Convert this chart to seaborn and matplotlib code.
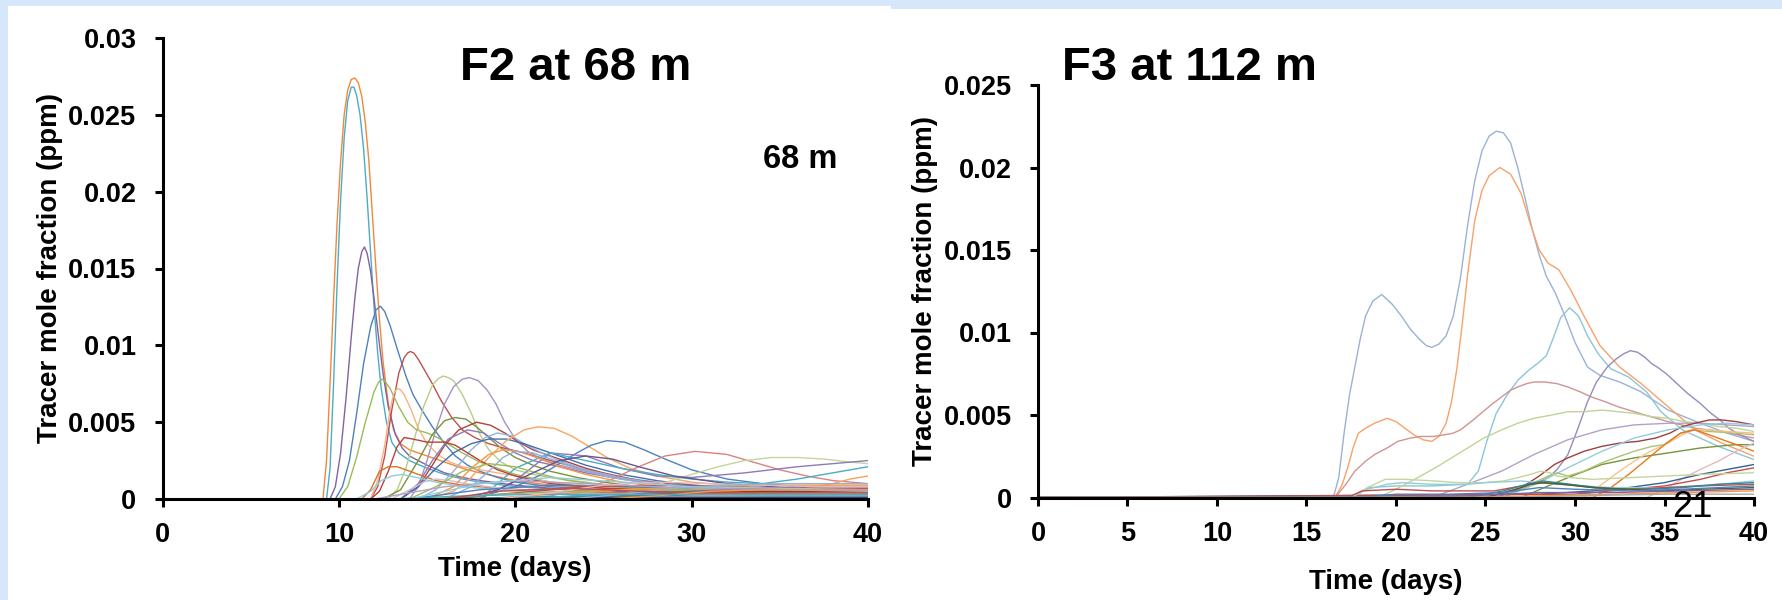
import matplotlib
matplotlib.use("Agg")
import matplotlib.pyplot as plt
import seaborn as sns
import pandas as pd
from matplotlib.patches import Rectangle
from matplotlib.ticker import FuncFormatter

# ---------------- F2 at 68 m (left panel) ----------------
f2_c01_t = [0, 9.1, 9.3, 9.5, 9.7, 9.9, 10.1, 10.3, 10.5, 10.7, 10.9, 11.1, 11.3, 11.5, 11.7, 11.9, 12.1, 12.3, 12.5, 12.8, 13.1, 13.5, 14, 14.5, 15, 16, 17, 18, 20, 22, 25, 30, 35, 40]
f2_c01_v = [0, 0, 0.0025, 0.0075, 0.0130, 0.0180, 0.0220, 0.0250, 0.0266, 0.0273, 0.0274, 0.0271, 0.0262, 0.0245, 0.0220, 0.0185, 0.0150, 0.0117, 0.0090, 0.0062, 0.0045, 0.0036, 0.0032, 0.0030, 0.0028, 0.0024, 0.0020, 0.0017, 0.0012, 0.0009, 0.0007, 0.0005, 0.0004, 0.0003]
f2_c02_t = [0, 9.3, 9.5, 9.7, 9.9, 10.1, 10.3, 10.5, 10.7, 10.85, 11.0, 11.2, 11.4, 11.6, 11.8, 12.0, 12.2, 12.4, 12.7, 13.0, 13.4, 14, 15, 16, 17, 18, 20, 23, 26, 30, 35, 40]
f2_c02_v = [0, 0, 0.002, 0.0075, 0.0140, 0.0195, 0.0235, 0.0259, 0.0268, 0.0268, 0.0263, 0.0250, 0.0228, 0.0196, 0.0160, 0.0124, 0.0095, 0.0072, 0.0050, 0.0037, 0.0030, 0.0025, 0.0020, 0.0016, 0.0013, 0.0011, 0.0008, 0.0006, 0.0004, 0.0003, 0.0002, 0.0002]
f2_c03_t = [0, 9.5, 9.8, 10.1, 10.4, 10.7, 10.9, 11.1, 11.3, 11.45, 11.6, 11.8, 12.0, 12.2, 12.5, 12.8, 13.2, 13.6, 14, 15, 16, 17, 18, 20, 22, 25, 30, 35, 40]
f2_c03_v = [0, 0, 0.0008, 0.0030, 0.0065, 0.0105, 0.0130, 0.0150, 0.0161, 0.0164, 0.0160, 0.0148, 0.0130, 0.0110, 0.0082, 0.0060, 0.0042, 0.0033, 0.0028, 0.0022, 0.0017, 0.0014, 0.0012, 0.0009, 0.0007, 0.0005, 0.0004, 0.0003, 0.0002]
f2_c04_t = [0, 9.8, 10.2, 10.6, 11.0, 11.4, 11.8, 12.1, 12.35, 12.6, 12.9, 13.3, 13.8, 14.2, 14.7, 15.3, 16.0, 16.6, 17.3, 18, 19, 20, 22, 25, 30, 35, 40]
f2_c04_v = [0, 0, 0.0008, 0.0025, 0.0055, 0.0088, 0.0112, 0.0123, 0.01255, 0.0122, 0.0113, 0.0098, 0.0080, 0.0068, 0.0058, 0.0047, 0.0036, 0.0028, 0.0022, 0.0018, 0.0014, 0.0011, 0.0008, 0.0006, 0.0004, 0.0003, 0.0002]
f2_c05_t = [0, 11.8, 12.2, 12.6, 13.0, 13.4, 13.7, 13.9, 14.05, 14.25, 14.5, 14.8, 15.3, 15.8, 16.4, 17, 17.7, 18.5, 19.4, 20.5, 22, 24, 26, 28, 30, 33, 36, 40]
f2_c05_v = [0, 0, 0.0008, 0.0028, 0.0058, 0.0082, 0.0092, 0.0095, 0.0096, 0.0095, 0.0091, 0.0085, 0.0075, 0.0064, 0.0053, 0.0045, 0.0040, 0.0036, 0.0033, 0.0030, 0.0025, 0.0019, 0.0014, 0.0010, 0.0008, 0.0006, 0.0005, 0.0004]
f2_c06_t = [0, 12.8, 13.3, 13.8, 14.3, 14.8, 15.3, 15.6, 15.9, 16.2, 16.5, 17.0, 17.5, 18.0, 18.5, 19.2, 20, 21, 22.5, 24, 26, 30, 35, 40]
f2_c06_v = [0, 0, 0.0006, 0.0020, 0.0040, 0.0060, 0.0074, 0.0078, 0.0080, 0.0079, 0.0077, 0.0068, 0.0056, 0.0042, 0.0032, 0.0024, 0.0019, 0.0016, 0.0013, 0.0011, 0.0008, 0.0005, 0.0004, 0.0003]
f2_c07_t = [0, 14.0, 14.5, 15.0, 15.5, 16.0, 16.5, 17.0, 17.4, 17.9, 18.4, 18.9, 19.4, 20.0, 20.7, 21.5, 22.5, 24, 26, 28, 30, 35, 40]
f2_c07_v = [0, 0, 0.0008, 0.0025, 0.0045, 0.0062, 0.0073, 0.0078, 0.0079, 0.0077, 0.0071, 0.0062, 0.0050, 0.0039, 0.0031, 0.0026, 0.0022, 0.0018, 0.0014, 0.0011, 0.0009, 0.0006, 0.0004]
f2_c08_t = [0, 10.0, 10.5, 11.0, 11.5, 12.0, 12.25, 12.45, 12.65, 12.9, 13.4, 13.9, 14.4, 15.0, 15.6, 16.3, 17, 18, 19, 20, 22, 25, 30, 35, 40]
f2_c08_v = [0, 0, 0.0008, 0.0027, 0.0050, 0.0070, 0.0076, 0.0078, 0.0076, 0.0072, 0.0060, 0.0050, 0.0045, 0.0043, 0.0040, 0.0035, 0.0030, 0.0024, 0.0020, 0.0016, 0.0011, 0.0007, 0.0005, 0.0003, 0.0002]
f2_c09_t = [0, 11.8, 12.2, 12.6, 12.9, 13.1, 13.3, 13.5, 13.7, 14.1, 14.5, 15.0, 15.6, 16.3, 17, 18, 19, 20, 22, 25, 30, 35, 40]
f2_c09_v = [0, 0, 0.0012, 0.0035, 0.0058, 0.0068, 0.0072, 0.0071, 0.0068, 0.0058, 0.0046, 0.0036, 0.0029, 0.0024, 0.0021, 0.0019, 0.0017, 0.0015, 0.0011, 0.0008, 0.0005, 0.0003, 0.0002]
f2_c10_t = [0, 12.5, 13.5, 14.5, 15.3, 16.0, 16.6, 17.2, 17.8, 18.5, 19.2, 20, 21, 22, 23.5, 25, 27, 30, 35, 40]
f2_c10_v = [0, 0, 0.0006, 0.0025, 0.0042, 0.0051, 0.0053, 0.0052, 0.0047, 0.0040, 0.0033, 0.0027, 0.0022, 0.0018, 0.0014, 0.0011, 0.0008, 0.0006, 0.0004, 0.0003]
f2_c11_t = [0, 13.5, 14.5, 15.3, 16.0, 16.8, 17.8, 18.6, 19.4, 20.2, 21, 22, 23, 24, 25, 27, 30, 35, 40]
f2_c11_v = [0, 0, 0.0008, 0.0022, 0.0035, 0.0045, 0.0050, 0.0048, 0.0043, 0.0037, 0.0032, 0.0028, 0.0024, 0.0020, 0.0017, 0.0012, 0.0008, 0.0005, 0.0003]
f2_c12_t = [0, 13.5, 14.5, 15.3, 16.2, 17.3, 18.2, 19.0, 20, 21, 22.5, 24, 26, 28, 30, 35, 40]
f2_c12_v = [0, 0, 0.0010, 0.0025, 0.0039, 0.0045, 0.0043, 0.0037, 0.0030, 0.0025, 0.0021, 0.0017, 0.0013, 0.0010, 0.0008, 0.0005, 0.0003]
f2_c13_t = [0, 14.5, 15.5, 16.5, 17.5, 18.3, 19.0, 19.8, 20.5, 21.5, 22.5, 24, 26, 28, 31, 35, 40]
f2_c13_v = [0, 0, 0.0006, 0.0018, 0.0032, 0.0040, 0.0043, 0.0041, 0.0036, 0.0030, 0.0025, 0.0019, 0.0014, 0.0010, 0.0007, 0.0005, 0.0003]
f2_c14_t = [0, 13.5, 14.5, 15.5, 16.5, 17.5, 18.5, 19.5, 20.5, 21.5, 22.5, 24, 26, 28, 30, 35, 40]
f2_c14_v = [0, 0, 0.0008, 0.0020, 0.0030, 0.0036, 0.0039, 0.0039, 0.0036, 0.0032, 0.0028, 0.0022, 0.0016, 0.0012, 0.0009, 0.0006, 0.0004]
f2_c15_t = [0, 15, 16.5, 17.5, 18.5, 19.5, 20.5, 21.3, 22.2, 23.2, 24.2, 25.2, 26.5, 28, 30, 33, 36, 40]
f2_c15_v = [0, 0, 0.0005, 0.0014, 0.0027, 0.0038, 0.0045, 0.0047, 0.0046, 0.0041, 0.0034, 0.0027, 0.0020, 0.0015, 0.0011, 0.0008, 0.0006, 0.0004]
f2_c16_t = [0, 17, 18.5, 20, 21.5, 22.5, 23.5, 24.3, 25.2, 26.2, 27.3, 28.5, 30, 32, 34, 37, 40]
f2_c16_v = [0, 0, 0.0003, 0.0008, 0.0016, 0.0023, 0.0030, 0.0035, 0.0038, 0.0037, 0.0032, 0.0026, 0.0019, 0.0013, 0.0010, 0.0007, 0.0006]
f2_c17_t = [0, 20, 22, 24, 25.5, 27, 28.5, 30.2, 32, 33.5, 35, 36.5, 38, 40]
f2_c17_v = [0, 0, 0.0002, 0.0007, 0.0013, 0.0021, 0.0028, 0.0031, 0.0029, 0.0024, 0.0019, 0.0015, 0.0012, 0.0010]
f2_c18_t = [0, 24, 26, 28, 30, 31.5, 33, 34.5, 36, 37.5, 39, 40]
f2_c18_v = [0, 0, 0.0003, 0.0009, 0.0016, 0.0021, 0.0025, 0.0027, 0.0027, 0.0026, 0.0024, 0.0023]
f2_c19_t = [0, 18, 20, 22, 24, 26, 28, 30, 33, 36, 38, 40]
f2_c19_v = [0, 0, 0.0012, 0.0030, 0.0028, 0.0020, 0.0015, 0.0014, 0.0017, 0.0021, 0.0023, 0.0025]
f2_c20_t = [0, 18, 20, 22, 24, 26, 28, 30, 32, 34, 36, 38, 40]
f2_c20_v = [0, 0, 0.0020, 0.0030, 0.0025, 0.0020, 0.0016, 0.0013, 0.0011, 0.0010, 0.0013, 0.0017, 0.0021]
f2_c21_t = [0, 22, 26, 30, 34, 36, 37, 38, 39, 40]
f2_c21_v = [0, 0, 0.0006, 0.0007, 0.0006, 0.0006, 0.0008, 0.0010, 0.0013, 0.0015]
f2_c22_t = [0, 11.8, 12.3, 12.8, 13.3, 13.7, 14.2, 15, 16, 16.6, 17.3, 18, 19, 20, 22, 25, 30, 35, 40]
f2_c22_v = [0, 0, 0.0005, 0.0018, 0.0034, 0.0040, 0.0039, 0.0037, 0.0037, 0.0035, 0.0030, 0.0025, 0.0019, 0.0015, 0.0010, 0.0007, 0.0005, 0.0004, 0.0003]
f2_c23_t = [0, 11.3, 11.8, 12.3, 12.8, 13.3, 13.8, 14.5, 15.5, 17, 19, 22, 26, 30, 35, 40]
f2_c23_v = [0, 0, 0.0006, 0.0018, 0.0021, 0.0021, 0.0019, 0.0016, 0.0012, 0.0009, 0.0007, 0.0005, 0.0004, 0.0003, 0.0002, 0.0002]
f2_c24_t = [0, 13, 14, 14.8, 15.5, 16.3, 17.2, 18.5, 20, 23, 27, 32, 40]
f2_c24_v = [0, 0, 0.0006, 0.0011, 0.0013, 0.0012, 0.0010, 0.0008, 0.0006, 0.0004, 0.0003, 0.0002, 0.0002]
f2_c25_t = [0, 11, 11.8, 12.4, 13.0, 13.6, 14.4, 15.5, 17, 19, 22, 26, 32, 40]
f2_c25_v = [0, 0, 0.0005, 0.0012, 0.0015, 0.0016, 0.0014, 0.0011, 0.0008, 0.0006, 0.0004, 0.0003, 0.0002, 0.0002]
f2_c26_t = [0, 15, 16.5, 17.5, 18.5, 19.3, 20.2, 21.2, 22.5, 24, 26, 29, 33, 40]
f2_c26_v = [0, 0, 0.0008, 0.0020, 0.0029, 0.0032, 0.0031, 0.0027, 0.0021, 0.0016, 0.0011, 0.0007, 0.0005, 0.0003]
f2_c27_t = [0, 16, 17.5, 18.5, 19.3, 20, 21, 22, 23.5, 25, 27, 30, 35, 40]
f2_c27_v = [0, 0, 0.0008, 0.0018, 0.0027, 0.0031, 0.0030, 0.0026, 0.0020, 0.0015, 0.0011, 0.0007, 0.0005, 0.0003]
f2_c28_t = [0, 14, 15.5, 17, 18.5, 20, 21.5, 23, 25, 28, 32, 40]
f2_c28_v = [0, 0, 0.0008, 0.0018, 0.0023, 0.0021, 0.0016, 0.0012, 0.0009, 0.0006, 0.0004, 0.0003]
f2_c29_t = [0, 17, 19, 21, 22.5, 24, 25.5, 27, 29, 32, 36, 40]
f2_c29_v = [0, 0, 0.0006, 0.0017, 0.0025, 0.0028, 0.0026, 0.0021, 0.0015, 0.0010, 0.0007, 0.0005]
f2_l01_t = [0, 14, 18, 22, 26, 30, 35, 40]
f2_l01_v = [0, 0, 0.0006, 0.0009, 0.0008, 0.0007, 0.0006, 0.0006]
f2_l02_t = [0, 16, 20, 24, 28, 32, 36, 40]
f2_l02_v = [0, 0, 0.0004, 0.0008, 0.0009, 0.0008, 0.0007, 0.0007]
f2_l03_t = [0, 15, 19, 23, 27, 31, 35, 40]
f2_l03_v = [0, 0, 0.0003, 0.0005, 0.0006, 0.0006, 0.0005, 0.0005]
f2_l04_t = [0, 18, 22, 26, 30, 34, 40]
f2_l04_v = [0, 0, 0.0003, 0.0006, 0.0008, 0.0009, 0.0009]
f2_l05_t = [0, 20, 24, 28, 32, 36, 40]
f2_l05_v = [0, 0, 0.0002, 0.0004, 0.0006, 0.0007, 0.0007]
f2_l06_t = [0, 13, 17, 21, 25, 30, 35, 40]
f2_l06_v = [0, 0, 0.0002, 0.0003, 0.0003, 0.0003, 0.0003, 0.0003]
f2_l07_t = [0, 22, 26, 30, 34, 38, 40]
f2_l07_v = [0, 0, 0.0002, 0.0004, 0.0005, 0.0005, 0.0005]
f2_l08_t = [0, 17, 21, 25, 30, 35, 40]
f2_l08_v = [0, 0, 0.0001, 0.0002, 0.0003, 0.0004, 0.0004]
f2_l09_t = [0, 24, 28, 32, 36, 40]
f2_l09_v = [0, 0, 0.0002, 0.0003, 0.0004, 0.0004]
f2_l10_t = [0, 15, 20, 25, 30, 35, 40]
f2_l10_v = [0, 0, 0.0001, 0.0002, 0.0002, 0.0002, 0.0002]
f2_l11_t = [0, 19, 24, 29, 34, 40]
f2_l11_v = [0, 0, 0.0001, 0.0001, 0.0002, 0.0002]
f2_l12_t = [0, 26, 30, 34, 40]
f2_l12_v = [0, 0, 0.0002, 0.0003, 0.0004]
f2_l13_t = [0, 12, 16, 20, 24, 30, 40]
f2_l13_v = [0, 0, 0.0008, 0.0012, 0.0010, 0.0007, 0.0005]
f2_l14_t = [0, 14, 18, 22, 26, 30, 40]
f2_l14_v = [0, 0, 0.0010, 0.0014, 0.0011, 0.0008, 0.0006]
f2_l15_t = [0, 21, 25, 30, 35, 40]
f2_l15_v = [0, 0, 0.0001, 0.0001, 0.0001, 0.0001]
f2_l16_t = [0, 19, 22, 25, 28, 31, 34, 37, 40]
f2_l16_v = [0, 0, 0.0004, 0.0009, 0.0011, 0.0010, 0.0009, 0.0008, 0.0008]
f2_l17_t = [0, 23, 26, 29, 32, 35, 38, 40]
f2_l17_v = [0, 0, 0.0003, 0.0007, 0.0009, 0.0010, 0.0010, 0.0010]
f2_l18_t = [0, 16, 19, 23, 27, 31, 35, 40]
f2_l18_v = [0, 0, 0.0005, 0.0007, 0.0005, 0.0004, 0.0004, 0.0004]
f2_l19_t = [0, 25, 28, 31, 34, 37, 40]
f2_l19_v = [0, 0, 0.0002, 0.0005, 0.0006, 0.0006, 0.0006]
f2_l20_t = [0, 20, 25, 30, 35, 40]
f2_l20_v = [0, 0, 0.0003, 0.0003, 0.0003, 0.0003]

# ---------------- F3 at 112 m (right panel) ----------------
f3_c01_t = [0, 16.5, 16.8, 17.1, 17.4, 17.7, 18.0, 18.3, 18.7, 19.2, 19.8, 20.3, 20.8, 21.3, 21.7, 22.0, 22.4, 22.8, 23.2, 23.6, 24.0, 24.4, 24.8, 25.2, 25.6, 26.0, 26.4, 26.8, 27.2, 27.6, 28.0, 28.4, 28.9, 29.4, 30.0, 30.7, 31.4, 32.5, 33.7, 35.2, 37.0, 38.5, 40]
f3_c01_v = [0, 0, 0.0012, 0.0039, 0.0062, 0.0079, 0.0096, 0.0110, 0.0119, 0.0123, 0.0117, 0.0110, 0.0102, 0.0096, 0.0092, 0.0091, 0.0093, 0.0098, 0.0110, 0.0133, 0.0165, 0.0192, 0.0210, 0.0219, 0.0222, 0.0221, 0.0215, 0.0200, 0.0182, 0.0163, 0.0147, 0.0134, 0.0124, 0.0111, 0.0094, 0.0079, 0.0074, 0.0070, 0.0064, 0.0053, 0.0045, 0.0039, 0.0034]
f3_c02_t = [0, 16.6, 17.0, 17.3, 17.6, 17.9, 18.3, 18.8, 19.5, 20.0, 20.5, 21.0, 21.5, 22.0, 22.4, 22.8, 23.1, 23.4, 23.7, 24.0, 24.4, 24.8, 25.2, 25.8, 26.4, 27.0, 27.5, 28.0, 28.5, 29.1, 29.8, 30.5, 31.4, 32.5, 33.7, 35.2, 36.7, 38.2, 40]
f3_c02_v = [0, 0, 0.0008, 0.0018, 0.0030, 0.0039, 0.0042, 0.0045, 0.0048, 0.0046, 0.0042, 0.0038, 0.0035, 0.0034, 0.0037, 0.0045, 0.0058, 0.0078, 0.0105, 0.0135, 0.0168, 0.0186, 0.0195, 0.0200, 0.0196, 0.0184, 0.0166, 0.0150, 0.0142, 0.0138, 0.0125, 0.0110, 0.0092, 0.0079, 0.0069, 0.0055, 0.0041, 0.0033, 0.0025]
f3_c03_t = [0, 17.5, 18.5, 20, 22, 24, 24.6, 25.1, 25.6, 26.2, 26.8, 27.4, 28.0, 28.4, 28.8, 29.2, 29.7, 30.2, 30.7, 31.3, 32.0, 33.0, 34.0, 34.8, 36.0, 38.0, 40]
f3_c03_v = [0, 0, 0.0006, 0.0007, 0.0007, 0.0008, 0.0016, 0.0035, 0.0051, 0.0062, 0.0071, 0.0077, 0.0082, 0.0086, 0.0097, 0.0109, 0.0115, 0.0110, 0.0098, 0.0087, 0.0078, 0.0073, 0.0064, 0.0052, 0.0041, 0.0031, 0.0023]
f3_c04_t = [0, 16.6, 17.2, 17.7, 18.3, 18.8, 19.5, 20.1, 20.8, 21.4, 22.1, 22.7, 23.2, 23.6, 24.2, 24.75, 25.3, 25.9, 26.4, 26.8, 27.3, 27.7, 28.3, 29.0, 29.6, 30.3, 30.9, 31.7, 32.4, 33.9, 35.2, 36.7, 38.2, 40]
f3_c04_v = [0, 0, 0.0008, 0.0016, 0.0022, 0.0026, 0.0030, 0.0034, 0.0036, 0.0037, 0.0037, 0.0038, 0.0039, 0.0041, 0.0046, 0.0051, 0.0056, 0.0061, 0.0065, 0.0067, 0.0069, 0.0070, 0.0070, 0.0069, 0.0067, 0.0064, 0.0061, 0.0058, 0.0055, 0.0050, 0.0046, 0.0042, 0.0040, 0.0036]
f3_c05_t = [0, 25.5, 26.5, 27.5, 28.5, 29.0, 29.6, 30.1, 30.7, 31.2, 31.8, 32.3, 32.7, 33.1, 33.5, 33.9, 34.3, 34.6, 35.1, 35.7, 36.3, 37.0, 37.6, 38.1, 38.6, 39.2, 40]
f3_c05_v = [0, 0, 0.0003, 0.0007, 0.0012, 0.0017, 0.0026, 0.0040, 0.0058, 0.0070, 0.0079, 0.0084, 0.0087, 0.0089, 0.0088, 0.0085, 0.0081, 0.0079, 0.0075, 0.0069, 0.0063, 0.0057, 0.0051, 0.0047, 0.0042, 0.0038, 0.0034]
f3_c06_t = [0, 19.0, 20, 21.2, 22.2, 23.1, 24.0, 24.9, 25.9, 26.8, 27.7, 28.7, 29.6, 30.5, 31.5, 32.4, 33.3, 34.3, 35.2, 36.1, 37.0, 38.0, 39.0, 40]
f3_c06_v = [0, 0, 0.0005, 0.0012, 0.0018, 0.0024, 0.0030, 0.0036, 0.0041, 0.0045, 0.0048, 0.0050, 0.0052, 0.0052, 0.0053, 0.0052, 0.0051, 0.0049, 0.0048, 0.0046, 0.0045, 0.0043, 0.0042, 0.0040]
f3_c07_t = [0, 22, 24, 25.9, 27.7, 29.6, 31.5, 33.3, 35.2, 37.0, 38.5, 40]
f3_c07_v = [0, 0, 0.0008, 0.0016, 0.0026, 0.0035, 0.0041, 0.0044, 0.0045, 0.0045, 0.0044, 0.0043]
f3_c08_t = [0, 25, 27, 28, 28.85, 29.6, 30.5, 31.5, 32.5, 33.5, 34.5, 35.3, 36.0, 36.7, 37.5, 38.2, 39, 40]
f3_c08_v = [0, 0, 0.0006, 0.0013, 0.0020, 0.0024, 0.0028, 0.0031, 0.0033, 0.0034, 0.0036, 0.0039, 0.0043, 0.0045, 0.0047, 0.0047, 0.0046, 0.0044]
f3_c09_t = [0, 26, 28, 29.6, 31.5, 33.3, 35.2, 37.0, 38.5, 40]
f3_c09_v = [0, 0, 0.0009, 0.0018, 0.0028, 0.0036, 0.0041, 0.0044, 0.0045, 0.0044]
f3_c10_t = [0, 27, 28.5, 29.6, 31.5, 33.3, 35.2, 37.0, 38.9, 40]
f3_c10_v = [0, 0, 0.0007, 0.0012, 0.0020, 0.0024, 0.0027, 0.0030, 0.0032, 0.0032]
f3_c11_t = [0, 26, 27.5, 28.5, 29.0, 29.6, 30.5, 31.5, 32.5, 33.3, 34.3, 35.0, 35.5, 35.9, 36.5, 37.5, 39, 40]
f3_c11_v = [0, 0, 0.0008, 0.0013, 0.0015, 0.0013, 0.0016, 0.0021, 0.0025, 0.0028, 0.0031, 0.0032, 0.0036, 0.0039, 0.0041, 0.0040, 0.0039, 0.0038]
f3_c12_t = [0, 30.5, 31.5, 32.5, 33.3, 34.2, 35.2, 36.0, 36.6, 37.5, 38.5, 40]
f3_c12_v = [0, 0, 0.0008, 0.0016, 0.0022, 0.0028, 0.0033, 0.0038, 0.0041, 0.0041, 0.0040, 0.0039]
f3_c13_t = [0, 31.0, 32.0, 33.0, 34.0, 35.0, 35.9, 36.7, 37.5, 38.5, 39.3, 40]
f3_c13_v = [0, 0, 0.0006, 0.0014, 0.0023, 0.0032, 0.0039, 0.0041, 0.0038, 0.0034, 0.0031, 0.0028]
f3_c14_t = [0, 34.0, 35.0, 36.1, 37.0, 38.0, 39.0, 40]
f3_c14_v = [0, 0, 0.0005, 0.0012, 0.0017, 0.0022, 0.0028, 0.0033]
f3_c15_t = [0, 28, 31, 33, 35, 37, 38.5, 40]
f3_c15_v = [0, 0.0002, 0.0004, 0.0006, 0.0009, 0.0014, 0.0017, 0.0020]
f3_c16_t = [0, 30, 33, 35, 37, 38.5, 40]
f3_c16_v = [0, 0.0002, 0.0005, 0.0007, 0.0011, 0.0015, 0.0018]
f3_c17_t = [0, 17.5, 18.4, 19.4, 20.5, 22.2, 23.5, 24.9, 26.0, 26.8, 27.5, 28.1, 28.6, 29.0, 29.8, 31, 33, 35, 37, 40]
f3_c17_v = [0, 0, 0.0006, 0.0011, 0.0011, 0.0010, 0.0009, 0.0009, 0.0010, 0.0012, 0.0014, 0.0016, 0.0015, 0.0013, 0.0012, 0.0011, 0.0012, 0.0013, 0.0014, 0.0015]
f3_c18_t = [0, 17.5, 18.4, 19.5, 20.3, 22, 24, 25, 27, 29, 32, 35, 38, 40]
f3_c18_v = [0, 0, 0.0005, 0.0008, 0.0009, 0.0008, 0.0008, 0.0009, 0.0010, 0.0008, 0.0006, 0.0006, 0.0008, 0.0010]
f3_c19_t = [0, 17.3, 18.1, 20, 22, 24, 25.5, 27, 28, 29.5, 31, 33, 35, 37, 40]
f3_c19_v = [0, 0, 0.0004, 0.0005, 0.0004, 0.0004, 0.0004, 0.0007, 0.0009, 0.0008, 0.0006, 0.0005, 0.0006, 0.0007, 0.0008]
f3_c20_t = [0, 24, 26, 27.3, 28.2, 29, 30.5, 32, 34, 36, 38, 40]
f3_c20_v = [0, 0, 0.0004, 0.0008, 0.0010, 0.0009, 0.0007, 0.0005, 0.0005, 0.0006, 0.0008, 0.0009]
f3_c21_t = [0, 25, 26.5, 27.5, 28.3, 29.3, 31, 33, 35, 37, 40]
f3_c21_v = [0, 0, 0.0004, 0.0008, 0.0009, 0.0008, 0.0006, 0.0005, 0.0004, 0.0005, 0.0006]
f3_c22_t = [0, 18, 20, 23, 26, 28, 30, 33, 36, 40]
f3_c22_v = [0, 0, 0.0002, 0.0002, 0.0003, 0.0006, 0.0005, 0.0004, 0.0005, 0.0007]
f3_c23_t = [0, 20, 24, 28, 32, 36, 40]
f3_c23_v = [0, 0, 0.0001, 0.0003, 0.0003, 0.0004, 0.0005]
f3_c24_t = [0, 24, 28, 32, 36, 40]
f3_c24_v = [0, 0, 0.0001, 0.0002, 0.0003, 0.0004]
f3_c25_t = [0, 26, 30, 35, 40]
f3_c25_v = [0, 0, 0.0001, 0.0002, 0.0002]

# axis ticks
f2_xticks = [0, 10, 20, 30, 40]
f2_yticks = [0, 0.005, 0.01, 0.015, 0.02, 0.025, 0.03]
f3_xticks = [0, 5, 10, 15, 20, 25, 30, 35, 40]
f3_yticks = [0, 0.005, 0.01, 0.015, 0.02, 0.025]

# ---------------- styling ----------------
f2_colors = {
    "c01": "#F0883A", "c02": "#4BACC6", "c03": "#8064A2", "c04": "#4F81BD",
    "c05": "#C0504D", "c06": "#B5CF86", "c07": "#A692C4", "c08": "#9BBB59",
    "c09": "#F6B186", "c10": "#77933C", "c11": "#B2403D", "c12": "#8E7BB0",
    "c13": "#95B3D7", "c14": "#3F71AE", "c15": "#F8A660", "c16": "#4F81BD",
    "c17": "#D98381", "c18": "#C3D69B", "c19": "#8F79B8", "c20": "#4BACC6",
    "c21": "#F9A25A", "c22": "#B8403C", "c23": "#D9732A", "c24": "#CCC0DA",
    "c25": "#93CDDD", "c26": "#F79646", "c27": "#8FB0D8", "c28": "#9BBB59",
    "c29": "#6B5590",
    "l01": "#4F81BD", "l02": "#C0504D", "l03": "#9BBB59", "l04": "#F79646",
    "l05": "#8064A2", "l06": "#4BACC6", "l07": "#953735", "l08": "#E46C0A",
    "l09": "#77933C", "l10": "#31859C", "l11": "#A6A6A6", "l12": "#D99694",
    "l13": "#B3A2C7", "l14": "#93CDDD", "l15": "#1F497D", "l16": "#E6B9B8",
    "l17": "#95B3D7", "l18": "#C0504D", "l19": "#F79646", "l20": "#4BACC6",
}
f3_colors = {
    "c01": "#9AB2D6", "c02": "#F7A26A", "c03": "#8CC6D6", "c04": "#D09492",
    "c05": "#9A8AB8", "c06": "#BFD596", "c07": "#B3A2C7", "c08": "#A0403D",
    "c09": "#93CDDD", "c10": "#77933C", "c11": "#A9C473", "c12": "#FAC090",
    "c13": "#E47A1C", "c14": "#E6B9B8", "c15": "#376092", "c16": "#C0504D",
    "c17": "#C3D69B", "c18": "#93CDDD", "c19": "#C0504D", "c20": "#31859C",
    "c21": "#4F6228", "c22": "#4F81BD", "c23": "#8064A2", "c24": "#F79646",
    "c25": "#A6A6A6",
}


def collect(prefix, keys):
    g = globals()
    rows = []
    for k in keys:
        for a, b in zip(g[f"{prefix}_{k}_t"], g[f"{prefix}_{k}_v"]):
            rows.append((k, a, b))
    return pd.DataFrame(rows, columns=["curve", "t", "v"])


df2 = collect("f2", list(f2_colors))
df3 = collect("f3", list(f3_colors))

sns.set_style("ticks")
plt.rcParams["font.family"] = ["Liberation Sans", "DejaVu Sans"]
plt.rcParams["font.weight"] = "bold"
plt.rcParams["text.color"] = "black"
plt.rcParams["axes.labelcolor"] = "black"
plt.rcParams["xtick.color"] = "black"
plt.rcParams["ytick.color"] = "black"

W, H = 1783, 600
fig = plt.figure(figsize=(W / 100, H / 100), dpi=100)
fig.patch.set_facecolor("#D6E7FB")
fig.add_artist(Rectangle((8 / W, 0), 883 / W, 594 / H, transform=fig.transFigure,
                         facecolor="white", edgecolor="none", zorder=-1))
fig.add_artist(Rectangle((891 / W, 0), 892 / W, 591 / H, transform=fig.transFigure,
                         facecolor="white", edgecolor="none", zorder=-1))

ax1 = fig.add_axes([162.5 / W, 101 / H, 705.5 / W, 461 / H])
ax2 = fig.add_axes([1038 / W, 102.5 / H, 716 / W, 412.5 / H])

for ax, df, pal in ((ax1, df2, f2_colors), (ax2, df3, f3_colors)):
    ax.set_facecolor("none")
    sns.lineplot(data=df, x="t", y="v", hue="curve", palette=pal, legend=False,
                 estimator=None, sort=False, linewidth=1.0, ax=ax)

fmt = FuncFormatter(lambda v, p: f"{v:g}")
for ax, xt, yt in ((ax1, f2_xticks, f2_yticks), (ax2, f3_xticks, f3_yticks)):
    ax.set_xlim(xt[0], xt[-1])
    ax.set_ylim(yt[0], yt[-1])
    ax.set_xticks(xt)
    ax.set_yticks(yt)
    ax.yaxis.set_major_formatter(fmt)
    ax.xaxis.set_major_formatter(fmt)
    for s in ("top", "right"):
        ax.spines[s].set_visible(False)
    for s in ("left", "bottom"):
        ax.spines[s].set_linewidth(2.2)
        ax.spines[s].set_color("black")
    ax.tick_params(axis="both", length=5.8, width=2.2, direction="out",
                   labelsize=19.5, colors="black", labelcolor="black")
    ax.tick_params(axis="y", pad=13)
    ax.tick_params(axis="x", pad=11)
    ax.set_xlabel("Time (days)", fontsize=20, fontweight="bold", color="black")
    ax.set_ylabel("Tracer mole fraction (ppm)", fontsize=20, fontweight="bold",
                  color="black")

ax1.xaxis.set_label_coords(0.5, -0.124)
ax1.yaxis.set_label_coords(-0.141, 0.501)
ax2.xaxis.set_label_coords(0.485, -0.1745)
ax2.yaxis.set_label_coords(-0.1397, 0.5006)

fig.text(575.5 / W, 1 - 80 / H, "F2 at 68 m", fontsize=34, fontweight="bold",
         ha="center", va="baseline", color="black")
fig.text(1189.5 / W, 1 - 80 / H, "F3 at 112 m", fontsize=34, fontweight="bold",
         ha="center", va="baseline", color="black")
fig.text(800 / W, 1 - 168 / H, "68 m", fontsize=23.5, fontweight="bold",
         ha="center", va="baseline", color="black")
fig.text(1692 / W, 1 - 517 / H, "21", fontsize=26, fontweight="normal",
         ha="center", va="baseline", color="black")

fig.savefig("out.png", dpi=100, facecolor=fig.get_facecolor())
